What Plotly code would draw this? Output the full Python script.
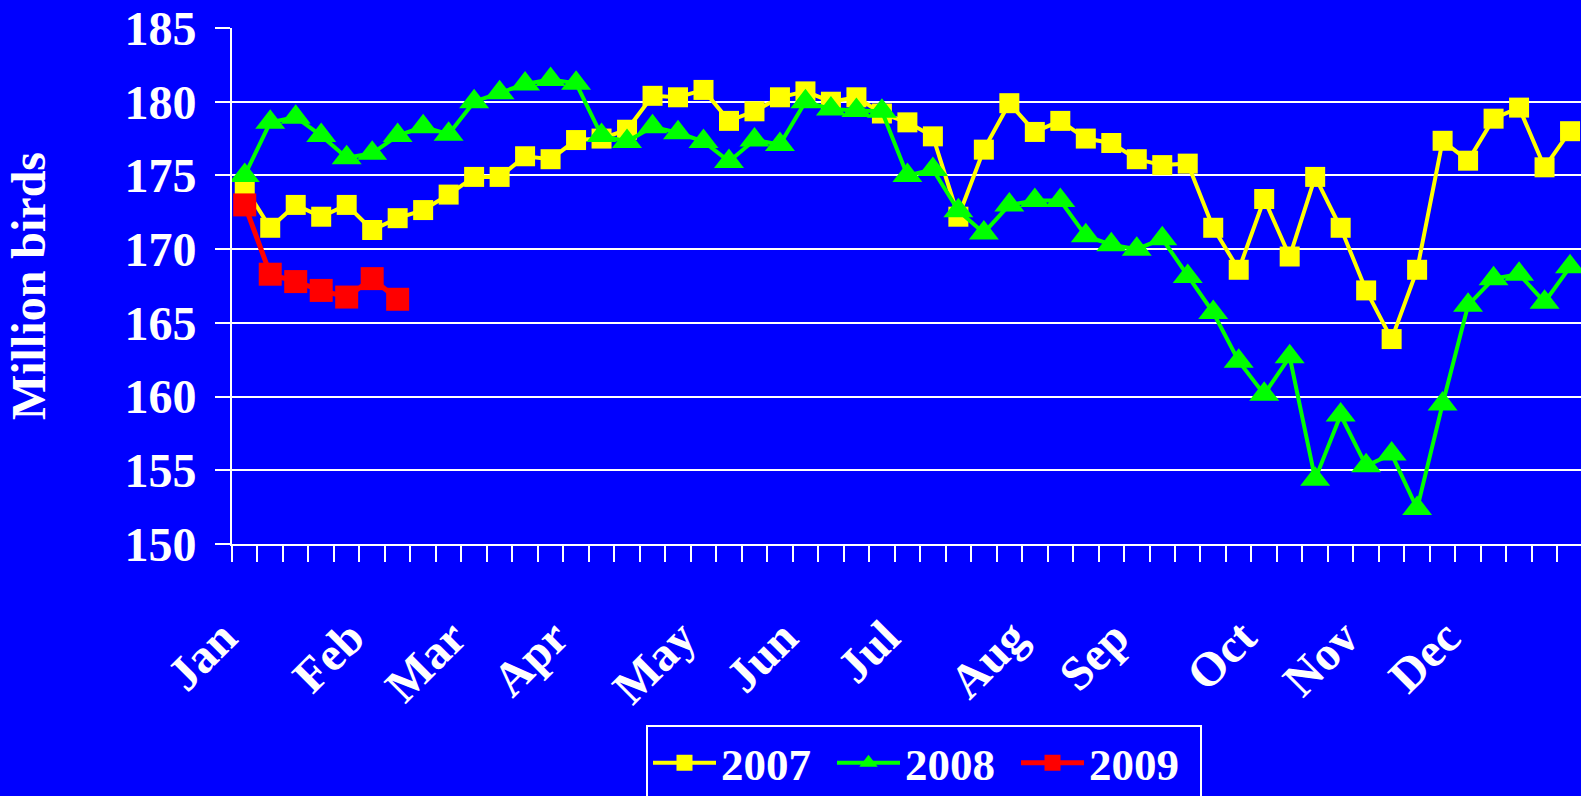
import plotly.graph_objects as go

# ---- data ----
weeks = list(range(53))
month_labels = ["Jan", "Feb", "Mar", "Apr", "May", "Jun", "Jul", "Aug", "Sep", "Oct", "Nov", "Dec"]
month_weeks = [0, 5, 9, 13, 18, 22, 26, 31, 35, 40, 44, 48]
y_ticks = [150, 155, 160, 165, 170, 175, 180, 185]

y2007 = [174.2, 171.45, 173.0, 172.2, 173.0, 171.3, 172.1, 172.65, 173.7, 174.9,
         174.9, 176.3, 176.1, 177.4, 177.5, 178.1, 180.4, 180.3, 180.8, 178.7,
         179.35, 180.3, 180.7, 180.0, 180.3, 179.2, 178.6, 177.65, 172.2, 176.75,
         179.9, 177.95, 178.7, 177.5, 177.2, 176.1, 175.7, 175.8, 171.45, 168.6,
         173.4, 169.5, 174.9, 171.45, 167.2, 163.9, 168.6, 177.35, 176.0, 178.85,
         179.6, 175.55, 178.0]
y2008 = [175.0, 178.6, 178.95, 177.7, 176.2, 176.5, 177.7, 178.3, 177.8, 180.0,
         180.6, 181.2, 181.5, 181.25, 177.7, 177.3, 178.3, 177.9, 177.3, 175.95,
         177.4, 177.1, 180.0, 179.5, 179.4, 179.35, 175.0, 175.4, 172.6, 171.1,
         173.0, 173.3, 173.3, 170.9, 170.3, 170.0, 170.7, 168.15, 165.7, 162.4,
         160.15, 162.7, 154.4, 158.75, 155.3, 156.1, 152.4, 159.5, 166.2, 168.0,
         168.3, 166.4, 168.8]
y2009 = [173.0, 168.3, 167.8, 167.2, 166.75, 168.0, 166.6]

# ---- figure ----
FONT = "Liberation Serif, Times New Roman, serif"
W, H = 1581, 796

fig = go.Figure()
fig.add_trace(go.Scatter(
    x=weeks, y=y2007, name="2007", mode="lines+markers",
    line=dict(color="#FFFF00", width=4),
    marker=dict(symbol="square", size=20, color="#FFFF00", line=dict(width=0)),
))
fig.add_trace(go.Scatter(
    x=weeks, y=y2008, name="2008", mode="lines+markers",
    line=dict(color="#00FF00", width=4),
    marker=dict(symbol="triangle-up", size=26, color="#00FF00", line=dict(width=0)),
))
fig.add_trace(go.Scatter(
    x=weeks[:len(y2009)], y=y2009, name="2009", mode="lines+markers",
    line=dict(color="#FF0000", width=5),
    marker=dict(symbol="square", size=23, color="#FF0000", line=dict(width=0)),
))

fig.update_layout(
    template="none",
    width=W, height=H,
    paper_bgcolor="#0000FF", plot_bgcolor="#0000FF",
    margin=dict(l=232, r=0, t=28, b=252, autoexpand=False),
    font=dict(family=FONT, color="white", size=48, weight="bold"),
    showlegend=True,
    legend=dict(
        orientation="h", xref="container", yref="container",
        x=646 / W, y=1 - 725 / H, xanchor="left", yanchor="top",
        bgcolor="#0000FF", bordercolor="white", borderwidth=2,
        font=dict(family=FONT, size=45, color="white", weight="bold"),
        itemwidth=63, entrywidth=106, entrywidthmode="pixels", tracegroupgap=0,
    ),
    xaxis=dict(
        range=[-0.5, 52.43], automargin=False,
        tickmode="array", tickvals=month_weeks, ticktext=month_labels,
        tickangle=-45, ticks="", showgrid=False, zeroline=False,
        showline=True, linecolor="white", linewidth=2,
        tickfont=dict(family=FONT, size=48, color="white", weight="bold"),
        ticklabelstandoff=44, ticklabelshift=-22,
        minor=dict(
            tickmode="array", tickvals=[w - 0.5 for w in weeks] + [weeks[-1] + 0.5],
            ticks="outside", ticklen=16, tickwidth=2, tickcolor="white", showgrid=False,
        ),
    ),
    yaxis=dict(
        range=[150, 185], automargin=False,
        tickmode="array", tickvals=y_ticks,
        ticks="outside", ticklen=15, tickwidth=2, tickcolor="white",
        showgrid=True, gridcolor="white", gridwidth=2, zeroline=False,
        showline=True, linecolor="white", linewidth=2,
        tickfont=dict(family=FONT, size=48, color="white", weight="bold"),
        ticklabelstandoff=9,
        title=dict(text="Million birds", standoff=64,
                   font=dict(family=FONT, size=48, color="white", weight="bold")),
    ),
)

fig.write_html(
    "out.html",
    config={"displayModeBar": False},
    post_script="document.body.style.margin='0';document.body.style.overflow='hidden';",
)
